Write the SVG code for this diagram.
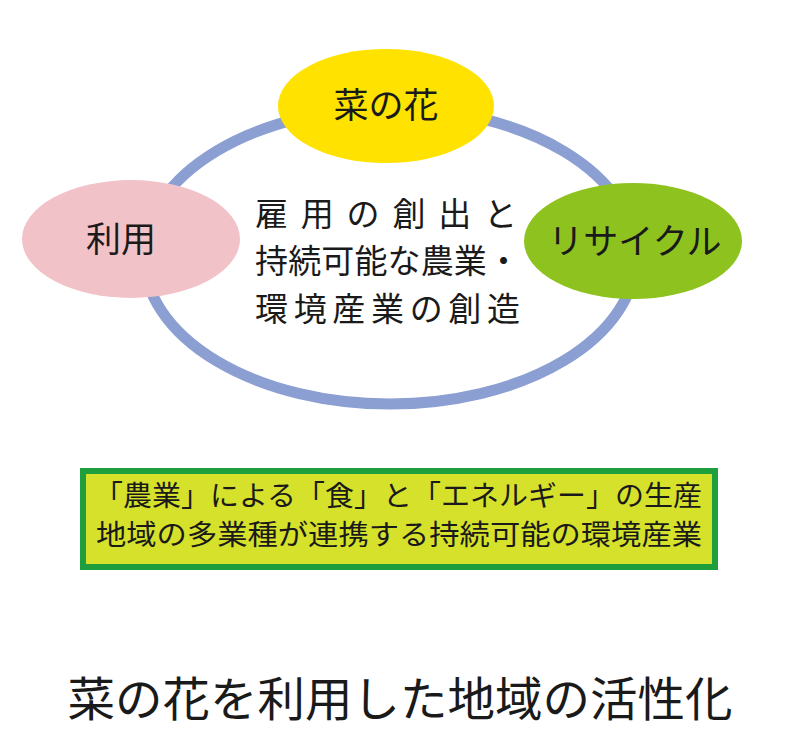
<svg xmlns="http://www.w3.org/2000/svg" width="800" height="750" viewBox="0 0 800 750">
<style>
text{font-family:"Noto Sans CJK JP","Noto Sans CJK SC",sans-serif;fill:#1a1a1a}
.n{font-size:35px;text-anchor:middle}
.c{font-size:33px}
.b{font-size:28px}
</style>
<rect width="800" height="750" fill="#fff"/>
<g id="connectors">
<ellipse cx="390" cy="256" rx="246" ry="148" fill="none" stroke="#8C9FD2" stroke-width="11"/>
</g>
<g id="node-nanohana">
<ellipse cx="386" cy="106" rx="108" ry="57" fill="#FFE200"/>
<text class="n" x="386" y="118">菜の花</text>
</g>
<g id="node-riyou">
<ellipse cx="131" cy="239" rx="109" ry="59" fill="#F2C2C9"/>
<text class="n" x="121" y="252">利用</text>
</g>
<g id="node-recycle">
<ellipse cx="633" cy="241" rx="109" ry="58" fill="#8DC21F"/>
<text class="n" x="635" y="254">リサイクル</text>
</g>
<g id="center">
<text class="c" x="255" y="226" textLength="262" lengthAdjust="spacing">雇用の創出と</text>
<text class="c" x="255" y="273" textLength="265" lengthAdjust="spacing">持続可能な農業・</text>
<text class="c" x="255" y="321" textLength="265" lengthAdjust="spacing">環境産業の創造</text>
</g>
<g id="box">
<rect x="83" y="471" width="632" height="96" fill="#D6E12B" stroke="#1E9E3C" stroke-width="6"/>
<text class="b" x="94" y="506" textLength="608" lengthAdjust="spacingAndGlyphs">「農業」による「食」と「エネルギー」の生産</text>
<text class="b" x="96" y="545" textLength="606" lengthAdjust="spacingAndGlyphs">地域の多業種が連携する持続可能の環境産業</text>
</g>
<g id="title">
<text x="400" y="716" font-size="47" text-anchor="middle" textLength="665" lengthAdjust="spacingAndGlyphs">菜の花を利用した地域の活性化</text>
</g>
</svg>
